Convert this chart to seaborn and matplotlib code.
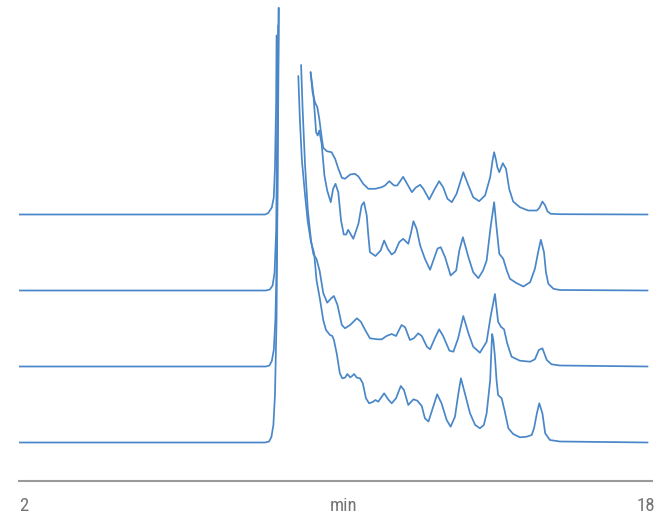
import matplotlib
matplotlib.use('Agg')
import matplotlib.pyplot as plt
from matplotlib import font_manager
import pandas as pd
import seaborn as sns

# retention time (min) and detector signal
# each run: solvent front (rise) and the eluting part after the off-scale peak
t1_front = [2.00, 8.22, 8.30, 8.39, 8.44, 8.47, 8.50, 8.51]
s1_front = [0, 0, 1.5, 7, 17, 47, 114, 179]
t1_tail = [9.37, 9.42, 9.48, 9.54, 9.59, 9.65, 9.69, 9.78, 9.90, 9.99, 10.07, 10.16, 10.24,
           10.37, 10.49, 10.58, 10.70, 10.83, 11.00, 11.17, 11.25, 11.36, 11.48, 11.56, 11.71,
           11.81, 11.93, 12.03, 12.14, 12.22, 12.37, 12.51, 12.62, 12.72, 12.83, 12.94, 13.06,
           13.15, 13.23, 13.36, 13.48, 13.63, 13.78, 13.91, 13.97, 14.01, 14.06, 14.09, 14.14,
           14.23, 14.31, 14.39, 14.49, 14.66, 14.87, 15.09, 15.16, 15.23, 15.30, 15.36, 15.44,
           15.67, 17.89]
s1_tail = [142.3, 122.3, 112.3, 107.3, 95.7, 77.3, 66.7, 63.3, 62.3, 55.7, 46, 36.7, 35.7,
           40, 40.7, 38, 30.7, 25.7, 25.7, 27.3, 29, 33.3, 29, 29, 37.7,
           30.7, 22.3, 27, 29.7, 25.7, 15, 25.7, 33.3, 27.3, 15.7, 12.3, 20.7,
           32, 42.3, 29, 17.3, 13.3, 19, 37.3, 54, 62.3, 54, 47.3, 42.3,
           51.3, 45.7, 25.7, 13, 7.3, 4, 4, 7, 13, 9, 3, 0.7,
           0.3, 0]

t2_front = [2.00, 8.24, 8.34, 8.41, 8.46, 8.50, 8.52, 8.55]
s2_front = [0, 0, 1, 5, 18, 60, 140, 265]
t2_tail = [9.37, 9.44, 9.51, 9.55, 9.59, 9.65, 9.72, 9.79, 9.88, 9.94, 10.00, 10.07, 10.14,
           10.21, 10.27, 10.32, 10.45, 10.58, 10.66, 10.72, 10.79, 10.83, 10.87, 11.01, 11.14,
           11.23, 11.32, 11.42, 11.50, 11.61, 11.71, 11.84, 11.91, 11.97, 12.05, 12.14, 12.26,
           12.39, 12.49, 12.58, 12.66, 12.77, 12.91, 13.05, 13.13, 13.22, 13.36, 13.48, 13.61,
           13.73, 13.82, 13.92, 14.01, 14.07, 14.14, 14.24, 14.33, 14.41, 14.58, 14.75, 14.92,
           15.04, 15.12, 15.19, 15.27, 15.32, 15.38, 15.51, 15.67, 17.89]
s2_tail = [218.3, 196.7, 158.3, 155, 160, 146.7, 115, 100, 88.3, 101.7, 106.7, 98.3, 70,
           56, 56, 60.7, 51.7, 66.7, 85, 88.3, 75, 55, 38.3, 34.5, 40,
           50, 41.7, 36, 38.3, 48.3, 51.7, 46.7, 58, 69.3, 61.7, 45, 31.7,
           20.7, 32, 42, 43.3, 33.3, 15, 20, 40, 53.3, 33.3, 18.3, 12.3,
           20, 30, 63.3, 88.3, 63.3, 36.7, 31.7, 20, 11.7, 7.3, 4, 8.3,
           21.7, 38, 50.7, 38.3, 18, 6.7, 1.7, 0.5, 0]

t3_front = [2.00, 8.24, 8.33, 8.39, 8.44, 8.48, 8.52, 8.56]
s3_front = [0, 0, 1, 5.5, 16.5, 46.5, 116.5, 358.5]
t3_tail = [9.13, 9.17, 9.23, 9.30, 9.38, 9.44, 9.52, 9.60, 9.69, 9.79, 9.90, 9.96, 10.05,
           10.16, 10.24, 10.37, 10.54, 10.64, 10.75, 10.87, 11.06, 11.17, 11.29, 11.42, 11.53,
           11.67, 11.76, 11.88, 11.98, 12.09, 12.18, 12.31, 12.39, 12.51, 12.62, 12.72, 12.88,
           12.98, 13.10, 13.23, 13.36, 13.48, 13.65, 13.82, 13.92, 14.03, 14.11, 14.18, 14.26,
           14.34, 14.45, 14.66, 14.92, 15.04, 15.14, 15.23, 15.34, 15.46, 15.67, 17.89]
s3_tail = [301.5, 256.5, 201.5, 156.5, 126.5, 112.5, 107.5, 95.5, 73.5, 63.8, 68.5, 70.5, 61.5,
           41.5, 38.2, 41.5, 48.2, 44.8, 36.5, 28.2, 27.2, 27.2, 30.5, 32.5, 30.5,
           41.5, 39.2, 26.5, 28.2, 33.2, 30.5, 19.8, 17.2, 28.2, 37.2, 30.5, 15.8,
           14.8, 28.2, 50.5, 33.2, 19.8, 13.8, 24.8, 49.8, 72.5, 44.8, 39.8, 37.2,
           23.2, 9.8, 5.8, 4.8, 7.2, 16.5, 18.2, 6.5, 2.2, 1, 0]

t4_front = [2.00, 8.22, 8.32, 8.38, 8.43, 8.47, 8.51, 8.57]
s4_front = [0, 0, 1, 5.5, 17.5, 47.5, 122.5, 434.5]
t4_tail = [9.06, 9.10, 9.15, 9.23, 9.30, 9.38, 9.46, 9.52, 9.61, 9.69, 9.76, 9.86, 9.92,
           9.96, 10.03, 10.11, 10.17, 10.24, 10.30, 10.37, 10.42, 10.47, 10.54, 10.62, 10.69,
           10.77, 10.85, 10.94, 11.01, 11.08, 11.23, 11.33, 11.42, 11.53, 11.65, 11.73, 11.84,
           11.97, 12.07, 12.18, 12.26, 12.35, 12.47, 12.57, 12.68, 12.81, 12.91, 13.02, 13.10,
           13.17, 13.27, 13.40, 13.53, 13.65, 13.75, 13.82, 13.91, 13.94, 13.96, 13.99, 14.03,
           14.07, 14.11, 14.20, 14.28, 14.37, 14.49, 14.66, 14.83, 14.96, 15.02, 15.09, 15.15,
           15.23, 15.30, 15.42, 15.67, 17.89]
s4_tail = [366.5, 322.5, 282.5, 247.5, 220.5, 200.5, 189.2, 162.5, 142.5, 122.5, 112.5, 107.5, 106.5,
           102.5, 89.2, 69.2, 64.2, 64.8, 68.5, 65.2, 66.5, 68.5, 64.8, 64.2, 59.2,
           44.2, 39.2, 40.5, 42.5, 40.8, 49.2, 43.2, 39.2, 44.2, 56.5, 52.5, 37.5,
           43.2, 41.8, 36.5, 24.2, 21, 35.8, 48.2, 39.2, 22.5, 15.8, 25.8, 47.5,
           64.2, 49.2, 29.2, 17.5, 14.2, 17.5, 29.2, 62.5, 92.5, 108.5, 102.5, 85.8,
           62.5, 47.5, 44.2, 30.8, 14.2, 8.5, 5.2, 5.8, 7.5, 14.5, 29.2, 39.2,
           29.2, 9.2, 2.5, 1, 0]

# vertical stacking of the four runs (bottom to top)
offsets = [38.5, 114.5, 190.5, 266.5]
runs = [
    (t4_front, s4_front, t4_tail, s4_tail),
    (t3_front, s3_front, t3_tail, s3_tail),
    (t2_front, s2_front, t2_tail, s2_tail),
    (t1_front, s1_front, t1_tail, s1_tail),
]

rows = []
for i, (tf, sf, tt, st) in enumerate(runs):
    for seg, (tt_, ss_) in enumerate([(tf, sf), (tt, st)]):
        for t, s in zip(tt_, ss_):
            rows.append({'time': t, 'signal': s + offsets[i], 'seg': f'{i}_{seg}'})
df = pd.DataFrame(rows)

sns.set_style('white')
# narrow font for the axis texts, whichever is installed
installed = {f.name for f in font_manager.fontManager.ttflist}
narrow = [f for f in ['Roboto Condensed', 'Liberation Sans Narrow', 'Roboto'] if f in installed]
plt.rcParams['font.family'] = narrow + ['DejaVu Sans']
condensed = bool(narrow) and narrow[0] != 'Roboto'
fsize = 13.5 if condensed else 12

fig = plt.figure(figsize=(6.62, 5.14), dpi=100)
ax = fig.add_axes([19 / 662, 33 / 514, 633 / 662, 481 / 514])

sns.lineplot(data=df, x='time', y='signal', units='seg', estimator=None,
             color='#4a87c8', lw=1.25, ax=ax, sort=False, legend=False,
             solid_joinstyle='round', solid_capstyle='round')

ax.set_xlim(2, 18)
ax.set_ylim(0, 481)
ax.set_xlabel('')
ax.set_ylabel('')
ax.set_xticks([])
ax.set_yticks([])
for side in ['left', 'top', 'right']:
    ax.spines[side].set_visible(False)
ax.spines['bottom'].set_color('#9a9a9a')
ax.spines['bottom'].set_linewidth(1.5)

tr = ax.get_xaxis_transform()
txt = dict(transform=tr, va='center', fontsize=fsize, color='#747474')
ax.text(2, -0.052, '2', ha='left', **txt)
ax.text(10.2, -0.052, 'min', ha='center', **txt)
ax.text(18.08, -0.052, '18', ha='right', **txt)

fig.savefig('out.png', dpi=100)
